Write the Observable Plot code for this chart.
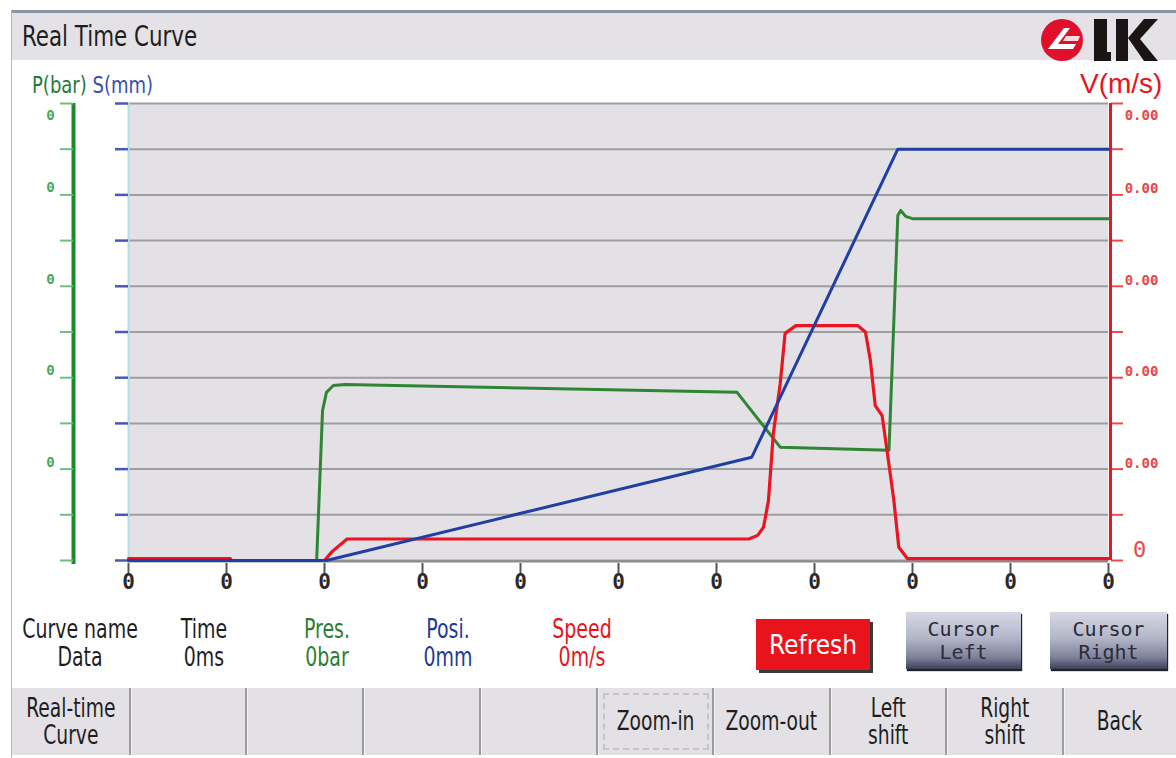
<!DOCTYPE html>
<html><head><meta charset="utf-8">
<script src="https://cdn.jsdelivr.net/npm/d3@7"></script>
<script src="https://cdn.jsdelivr.net/npm/@observablehq/plot@0.6"></script>
<style>
html,body{margin:0;padding:0;background:#fff;}
body{width:1176px;height:758px;position:relative;overflow:hidden;font-family:"Liberation Sans Narrow","DejaVu Sans Condensed","Liberation Sans",sans-serif;color:#222;}
.abs{position:absolute;}
#topline{left:11px;top:10px;width:1165px;height:3px;background:#8b92a3;}
#leftline{left:11px;top:10px;width:1px;height:748px;background:#b8b8b8;}
#titlebar{left:12px;top:13px;width:1164px;height:47px;background:#e4e2e6;}
#title{left:22px;top:20px;font-size:28px;color:#1e1e1e;white-space:nowrap;transform:scaleX(0.85);transform-origin:left center;}
#axlab{left:32px;top:72px;font-size:23px;white-space:nowrap;transform:scaleX(0.87);transform-origin:left center;}
#vlab{left:1080px;top:68px;font-size:28px;color:#e8141c;font-family:"Liberation Sans","DejaVu Sans",sans-serif;white-space:nowrap;}
#chart{left:0;top:95px;}
.info{position:absolute;text-align:center;font-size:26px;line-height:28px;white-space:nowrap;transform:translateX(-50%) scaleX(0.81);top:615px;}
.btn{position:absolute;display:flex;align-items:center;justify-content:center;text-align:center;white-space:pre;}
#refresh{left:756px;top:619px;width:114px;height:51px;background:#e8141c;color:#fff;font-size:26px;box-shadow:3px 3px 0 #3a3a3a;}
.cur{top:612px;height:57px;background:linear-gradient(#d6d8e4 0%,#b4b7c9 45%,#7d8199 80%,#3c3f58 100%);color:#2b2b3a;font-family:"DejaVu Sans Mono","Liberation Mono",monospace;font-size:20px;line-height:23px;box-shadow:1px 2px 1px #222;}
#bar{left:12px;top:688px;width:1164px;height:67px;background:#e3e1e5;}
.cell{position:absolute;top:688px;height:67px;display:flex;align-items:center;justify-content:center;text-align:center;white-space:pre;font-size:26px;line-height:27px;color:#1e1e1e;}
.cell span{display:inline-block;transform:scaleX(0.8);}
.div{position:absolute;top:688px;width:2px;height:67px;background:#9c9c9c;border-right:1px solid #f4f4f4;}
</style></head><body>
<div id="topline" class="abs"></div>
<div id="titlebar" class="abs"></div>
<div id="leftline" class="abs"></div>
<div id="title" class="abs">Real Time Curve</div>
<svg class="abs" style="left:1036px;top:14px" width="130" height="50" viewBox="0 0 130 50">
  <circle cx="26" cy="26" r="21" fill="#e0102a"/>
  <path d="M12 35 L28 14 L34 14 L22 30 L40 30 L37 35 Z" fill="#fff"/>
  <path d="M30 22 L44 22 L42 27 L27 27 Z" fill="#fff" opacity="0.85"/>
  <rect x="58" y="5" width="13" height="42" fill="#1a1414"/>
  <rect x="58" y="38" width="17" height="9" fill="#1a1414"/>
  <rect x="80" y="5" width="12" height="42" fill="#1a1414"/>
  <path d="M92 24 L108 5 L122 5 L104 25 L122 47 L108 47 Z" fill="#1a1414"/>
</svg>
<div id="axlab" class="abs"><span style="color:#1e7a3a">P(bar)</span> <span style="color:#3a4fb0">S(mm)</span></div>
<div id="vlab" class="abs">V(m/s)</div>
<div id="chart" class="abs"></div>
<div id="info"></div>
<div id="refresh" class="btn">Refresh</div>
<div class="btn cur" style="left:906px;width:115px;">Cursor
Left</div>
<div class="btn cur" style="left:1050px;width:117px;">Cursor
Right</div>
<div id="bar" class="abs"></div>
<div id="cells"></div>
<script>
// ---- data ----
const timeTicks = [0, 1, 2, 3, 4, 5, 6, 7, 8, 9, 10];
const timeTickLabels = ["0", "0", "0", "0", "0", "0", "0", "0", "0", "0", "0"];
const gridTicks = [0, 1, 2, 3, 4, 5, 6, 7, 8, 9, 10];
const pressLabelValues = [10, 8, 6, 4, 2];
const pressLabels = ["0", "0", "0", "0", "0"];
const speedLabelValues = [10, 8, 6, 4, 2, 0];
const speedLabels = ["0.00", "0.00", "0.00", "0.00", "0.00", "0"];

const pressTime = [0, 1.92, 1.98, 2.02, 2.09, 2.21, 6.21, 6.65, 7.76, 7.85, 7.88, 7.93, 8.0, 10];
const pressVal  = [0, 0, 3.28, 3.68, 3.83, 3.85, 3.68, 2.48, 2.41, 7.55, 7.66, 7.53, 7.48, 7.48];

const posTime = [0, 2.02, 6.36, 7.85, 10];
const posVal  = [0, 0, 2.26, 9.0, 9.0];

const speedTime = [0, 1.04, 1.05, 2.0, 2.08, 2.23, 6.33, 6.42, 6.48, 6.53, 6.58, 6.65, 6.70, 6.81, 7.44, 7.52, 7.57, 7.62, 7.69, 7.74, 7.81, 7.86, 7.95, 10];
const speedVal  = [0.04, 0.04, 0, 0, 0.2, 0.47, 0.47, 0.55, 0.73, 1.31, 2.78, 3.87, 4.97, 5.14, 5.14, 5.0, 4.38, 3.39, 3.17, 2.41, 1.31, 0.29, 0.04, 0.04];

const infoCols = ["Curve name", "Time", "Pres.", "Posi.", "Speed"];
const infoVals = ["Data", "0ms", "0bar", "0mm", "0m/s"];
const menuLabels = ["Real-time\nCurve", "", "", "", "", "Zoom-in", "Zoom-out", "Left\nshift", "Right\nshift", "Back"];

// ---- styles ----
const GREEN = "#2e8534", BLUE = "#1f3fa3", RED = "#ea1520";
const toRows = (t, v) => t.map((x, i) => ({t: x, v: v[i]}));
const press = toRows(pressTime, pressVal);
const pos = toRows(posTime, posVal);
const speed = toRows(speedTime, speedVal);
const blank = () => "";
const MONO = "DejaVu Sans Mono";

const chart = Plot.plot({
  width: 1176, height: 505,
  marginLeft: 128, marginRight: 68, marginTop: 8, marginBottom: 40,
  style: {background: "transparent", fontFamily: "'Liberation Sans Narrow','DejaVu Sans Condensed',sans-serif"},
  x: {domain: [0, 10], label: null},
  y: {domain: [0, 10], label: null},
  marks: [
    Plot.frame({fill: "#e3e1e5", stroke: null}),
    Plot.gridY(gridTicks, {stroke: "#9e9e9e", strokeOpacity: 1, strokeWidth: 2}),
    Plot.ruleX([0], {stroke: "#b3dde2", strokeWidth: 2}),
    Plot.ruleY([0], {stroke: "#8a8a8a", strokeWidth: 2, dy: 1}),
    // left blue (position) ticks
    Plot.axisY(gridTicks, {anchor: "left", tickSize: 13, tickFormat: blank, stroke: "#4a58b8", strokeWidth: 2.5, label: null}),
    // green (pressure) axis
    Plot.ruleX([0], {dx: -55, stroke: "#1a8a2c", strokeWidth: 4, insetBottom: -4}),
    Plot.axisY(gridTicks, {anchor: "left", dx: -55, tickSize: 13, tickFormat: blank, stroke: "#6fbf7a", strokeWidth: 2, label: null}),
    Plot.text(pressLabelValues.slice(0, 1), {y: d => d, text: (d, i) => pressLabels[i], frameAnchor: "left", textAnchor: "middle", dx: -78, dy: 12, fill: "#4aa85a", fontSize: 14, fontWeight: "bold", fontFamily: MONO}),
    Plot.text(pressLabelValues.slice(1), {y: d => d, text: (d, i) => pressLabels[i + 1], frameAnchor: "left", textAnchor: "middle", dx: -78, dy: -7, fill: "#4aa85a", fontSize: 14, fontWeight: "bold", fontFamily: MONO}),
    // red (speed) axis
    Plot.axisY(gridTicks, {anchor: "right", dx: 2, tickSize: 12, tickFormat: blank, stroke: "#ee4a4a", strokeWidth: 2, label: null}),
    Plot.ruleX([10], {dx: 2, stroke: RED, strokeWidth: 3}),
    Plot.text(speedLabelValues.slice(0, 1), {y: d => d, text: (d, i) => speedLabels[i], frameAnchor: "right", textAnchor: "middle", dx: 33, dy: 12, fill: "#e84848", fontSize: 14, fontWeight: "bold", fontFamily: MONO}),
    Plot.text(speedLabelValues.slice(1, 5), {y: d => d, text: (d, i) => speedLabels[i + 1], frameAnchor: "right", textAnchor: "middle", dx: 33, dy: -6, fill: "#e84848", fontSize: 14, fontWeight: "bold", fontFamily: MONO}),
    Plot.text(speedLabelValues.slice(5), {y: d => d, text: (d, i) => speedLabels[i + 5], frameAnchor: "right", textAnchor: "middle", dx: 31, dy: -11, fill: "#e84848", fontSize: 22, fontFamily: MONO}),
    // x axis
    Plot.axisX(timeTicks, {anchor: "bottom", dy: 3, tickSize: 12, tickFormat: blank, stroke: "#555", strokeWidth: 2, label: null}),
    Plot.text(timeTicks, {x: d => d, text: (d, i) => timeTickLabels[i], frameAnchor: "bottom", dy: 28, fill: "#2a2a2a", fontSize: 21, fontWeight: "bold", fontFamily: MONO}),
    // curves
    Plot.line(press, {x: "t", y: "v", stroke: GREEN, strokeWidth: 3}),
    Plot.line(speed, {x: "t", y: "v", stroke: RED, strokeWidth: 3.2}),
    Plot.line(pos, {x: "t", y: "v", stroke: BLUE, strokeWidth: 3})
  ]
});
document.getElementById("chart").appendChild(chart);

// info table
const infoCenters = [80, 204, 327, 448, 582];
const infoColors = ["#1e1e1e", "#1e1e1e", "#2e7d32", "#1f3a93", "#e8141c"];
const info = document.getElementById("info");
infoCols.forEach((c, i) => {
  const d = document.createElement("div");
  d.className = "info";
  d.style.left = infoCenters[i] + "px";
  d.style.color = infoColors[i];
  d.innerHTML = c + "<br>" + infoVals[i];
  info.appendChild(d);
});

// bottom menu
const edges = [12, 130, 246, 363, 480, 597, 713, 830, 946, 1063, 1176];
const cells = document.getElementById("cells");
menuLabels.forEach((lab, i) => {
  const c = document.createElement("div");
  c.className = "cell";
  c.style.left = edges[i] + "px";
  c.style.width = (edges[i + 1] - edges[i]) + "px";
  const s = document.createElement("span");
  s.textContent = lab;
  c.appendChild(s);
  if (lab === "Zoom-in") {
    c.style.boxSizing = "border-box";
    c.style.border = "2px dashed #c4c4c4";
    c.style.top = "693px"; c.style.height = "57px";
    c.style.left = (edges[i] + 6) + "px";
    c.style.width = (edges[i + 1] - edges[i] - 10) + "px";
  }
  cells.appendChild(c);
  if (i > 0) {
    const dv = document.createElement("div");
    dv.className = "div";
    dv.style.left = (edges[i] - 1) + "px";
    cells.appendChild(dv);
  }
});
</script>
</body></html>
